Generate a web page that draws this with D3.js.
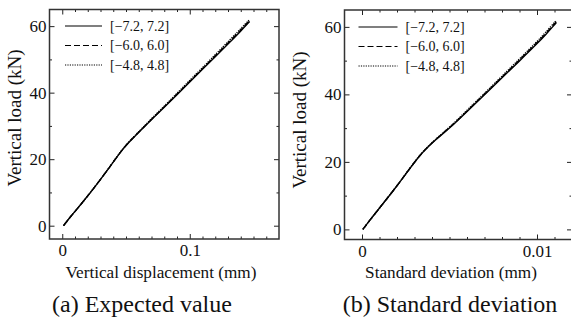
<!DOCTYPE html>
<html>
<head>
<meta charset="utf-8">
<script src="https://cdn.jsdelivr.net/npm/d3@7"></script>
<style>
  html, body { margin: 0; padding: 0; background: #fff; }
  svg text { font-family: "Liberation Serif", "Times New Roman", Times, serif; }
</style>
</head>
<body>
<div id="chart"></div>
<script>
// Series names
const seriesNames = ['[\u22127.2, 7.2]', '[\u22126.0, 6.0]', '[\u22124.8, 4.8]'];

// (a) Expected value: vertical displacement (mm) vs vertical load (kN)
const dispX = [0.001, 0.006, 0.012, 0.018, 0.024, 0.030, 0.036, 0.042, 0.047, 0.052, 0.057, 0.063, 0.070, 0.080, 0.090, 0.100, 0.110, 0.120, 0.130, 0.140, 0.147];
const loadA1 = [0, 2.5, 5.2, 8.0, 10.9, 13.9, 17.0, 20.2, 22.8, 25.0, 26.9, 29.2, 31.9, 35.6, 39.4, 43.2, 47.0, 50.8, 54.6, 58.5, 61.4];
const loadA2 = [0, 2.5, 5.2, 8.0, 10.9, 13.9, 17.0, 20.2, 22.8, 25.0, 27.0, 29.3, 32.0, 35.7, 39.6, 43.4, 47.2, 51.1, 54.9, 58.8, 61.7];
const loadA3 = [0, 2.5, 5.2, 8.0, 10.9, 13.9, 17.1, 20.3, 22.9, 25.1, 27.1, 29.4, 32.2, 35.9, 39.8, 43.7, 47.5, 51.4, 55.3, 59.2, 62.0];

// (b) Standard deviation (mm) vs vertical load (kN)
const stdX = [0.00005, 0.0005, 0.001, 0.0015, 0.002, 0.0025, 0.003, 0.0034, 0.0038, 0.0042, 0.0047, 0.0053, 0.006, 0.007, 0.008, 0.009, 0.010, 0.0105, 0.0111];
const loadB1 = [0, 3.1, 6.3, 9.6, 12.9, 16.4, 19.9, 22.5, 24.6, 26.5, 28.7, 31.4, 34.9, 39.9, 44.9, 49.9, 55.0, 57.7, 61.2];
const loadB2 = [0, 3.1, 6.3, 9.6, 12.9, 16.4, 19.9, 22.5, 24.6, 26.6, 28.8, 31.5, 35.1, 40.1, 45.1, 50.2, 55.3, 58.0, 61.5];
const loadB3 = [0, 3.1, 6.3, 9.6, 12.9, 16.5, 20.0, 22.6, 24.7, 26.7, 28.9, 31.7, 35.3, 40.3, 45.4, 50.5, 55.6, 58.4, 61.9];

// Tick values
const yMajor = [0, 20, 40, 60];
const yMinor = [10, 30, 50];
const xMajorA = [0, 0.1];
const xMinorA = [0.01, 0.02, 0.03, 0.04, 0.05, 0.06, 0.07, 0.08, 0.09, 0.11, 0.12, 0.13, 0.14, 0.15, 0.16];
const xMajorB = [0, 0.01];
const xMinorB = [0.001, 0.002, 0.003, 0.004, 0.005, 0.006, 0.007, 0.008, 0.009, 0.011];

const width = 571;
const height = 322;
const dashes = [null, '6,3', '1.2,1.2'];
const serif = '"Liberation Serif", "Times New Roman", Times, serif';

const svg = d3.select('#chart')
  .append('svg')
  .attr('width', width)
  .attr('height', height);

function drawPanel(opt) {
  const x = d3.scaleLinear().domain(opt.xDomain).range([opt.left, opt.right]);
  const y = d3.scaleLinear().domain(opt.yDomain).range([opt.bottom, opt.top]);
  const fmt = d => (d === 0 ? '0' : String(d));

  const g = svg.append('g');

  // Clip for curves
  const clipId = 'clip-' + opt.id;
  svg.append('clipPath').attr('id', clipId)
    .append('rect')
    .attr('x', opt.left).attr('y', opt.top)
    .attr('width', opt.right - opt.left).attr('height', opt.bottom - opt.top);

  // Curves
  const line = d3.line()
    .x(d => x(d[0]))
    .y(d => y(d[1]))
    .curve(d3.curveBasis);

  opt.series.forEach((s, i) => {
    g.append('path')
      .datum(opt.xs.map((v, j) => [v, s[j]]))
      .attr('clip-path', `url(#${clipId})`)
      .attr('fill', 'none')
      .attr('stroke', '#000')
      .attr('stroke-width', 1.4)
      .attr('stroke-dasharray', dashes[i])
      .attr('d', line);
  });

  const styleAxis = sel => {
    sel.attr('font-family', serif);
    sel.select('.domain').remove();
    sel.selectAll('line').attr('stroke', '#222').attr('stroke-width', 1);
    sel.selectAll('text')
      .attr('fill', '#111')
      .attr('font-family', serif)
      .attr('font-size', 17);
  };

  // Bottom axis (major with labels, minor without)
  g.append('g')
    .attr('transform', `translate(0, ${opt.bottom})`)
    .call(d3.axisBottom(x).tickValues(opt.xMajor).tickSizeInner(-5).tickSizeOuter(0).tickPadding(5).tickFormat(fmt))
    .call(styleAxis);
  g.append('g')
    .attr('transform', `translate(0, ${opt.bottom})`)
    .call(d3.axisBottom(x).tickValues(opt.xMinor).tickSizeInner(-2.5).tickSizeOuter(0).tickFormat(''))
    .call(styleAxis);

  // Top axis
  g.append('g')
    .attr('transform', `translate(0, ${opt.top})`)
    .call(d3.axisTop(x).tickValues(opt.xMajor).tickSizeInner(-5).tickSizeOuter(0).tickFormat(''))
    .call(styleAxis);
  g.append('g')
    .attr('transform', `translate(0, ${opt.top})`)
    .call(d3.axisTop(x).tickValues(opt.xMinor).tickSizeInner(-2.5).tickSizeOuter(0).tickFormat(''))
    .call(styleAxis);

  // Left axis
  g.append('g')
    .attr('transform', `translate(${opt.left}, 0)`)
    .call(d3.axisLeft(y).tickValues(yMajor).tickSizeInner(-5).tickSizeOuter(0).tickPadding(3).tickFormat(fmt))
    .call(styleAxis);
  g.append('g')
    .attr('transform', `translate(${opt.left}, 0)`)
    .call(d3.axisLeft(y).tickValues(yMinor).tickSizeInner(-2.5).tickSizeOuter(0).tickFormat(''))
    .call(styleAxis);

  // Right axis
  g.append('g')
    .attr('transform', `translate(${opt.right}, 0)`)
    .call(d3.axisRight(y).tickValues(yMajor).tickSizeInner(-5).tickSizeOuter(0).tickFormat(''))
    .call(styleAxis);
  g.append('g')
    .attr('transform', `translate(${opt.right}, 0)`)
    .call(d3.axisRight(y).tickValues(yMinor).tickSizeInner(-2.5).tickSizeOuter(0).tickFormat(''))
    .call(styleAxis);

  // Frame
  g.append('rect')
    .attr('x', opt.left)
    .attr('y', opt.top)
    .attr('width', opt.right - opt.left)
    .attr('height', opt.bottom - opt.top)
    .attr('fill', 'none')
    .attr('stroke', '#333')
    .attr('stroke-width', 1.5);

  // Legend
  seriesNames.forEach((name, i) => {
    const ly = opt.legendY + i * 19.5;
    g.append('line')
      .attr('x1', opt.legendX).attr('x2', opt.legendX + opt.legendLen)
      .attr('y1', ly).attr('y2', ly)
      .attr('stroke', '#000')
      .attr('stroke-width', 1.1)
      .attr('stroke-dasharray', dashes[i]);
    g.append('text')
      .attr('x', opt.legendX + opt.legendLen + 8)
      .attr('y', ly + 4.5)
      .attr('font-family', serif)
      .attr('font-size', 14)
      .attr('fill', '#111')
      .text(name);
  });

  // Axis titles
  g.append('text')
    .attr('transform', `translate(${opt.yTitleX}, ${opt.yTitleY}) rotate(-90)`)
    .attr('text-anchor', 'middle')
    .attr('font-family', serif)
    .attr('font-size', 19)
    .attr('fill', '#111')
    .text('Vertical load (kN)');

  g.append('text')
    .attr('x', opt.xTitleX)
    .attr('y', 278)
    .attr('text-anchor', 'middle')
    .attr('font-family', serif)
    .attr('font-size', 17.2)
    .attr('fill', '#111')
    .text(opt.xTitle);

  // Caption
  g.append('text')
    .attr('x', opt.captionX)
    .attr('y', 312)
    .attr('text-anchor', 'middle')
    .attr('font-family', serif)
    .attr('font-size', 24)
    .attr('fill', '#111')
    .text(opt.caption);
}

drawPanel({
  id: 'a',
  left: 49.5, right: 279, top: 9.5, bottom: 239,
  xDomain: [-0.01, 0.17], yDomain: [-4, 65],
  xs: dispX, series: [loadA1, loadA2, loadA3],
  xMajor: xMajorA, xMinor: xMinorA,
  legendX: 65, legendLen: 37, legendY: 26,
  yTitleX: 21, yTitleY: 118, xTitleX: 161, xTitle: 'Vertical displacement (mm)',
  captionX: 142, caption: '(a) Expected value'
});

drawPanel({
  id: 'b',
  left: 344.5, right: 572, top: 10, bottom: 239.5,
  xDomain: [-0.001, 0.012], yDomain: [-3, 65],
  xs: stdX, series: [loadB1, loadB2, loadB3],
  xMajor: xMajorB, xMinor: xMinorB,
  legendX: 358.5, legendLen: 39, legendY: 27,
  yTitleX: 306, yTitleY: 120, xTitleX: 451, xTitle: 'Standard deviation (mm)',
  captionX: 450, caption: '(b) Standard deviation'
});
</script>
</body>
</html>
